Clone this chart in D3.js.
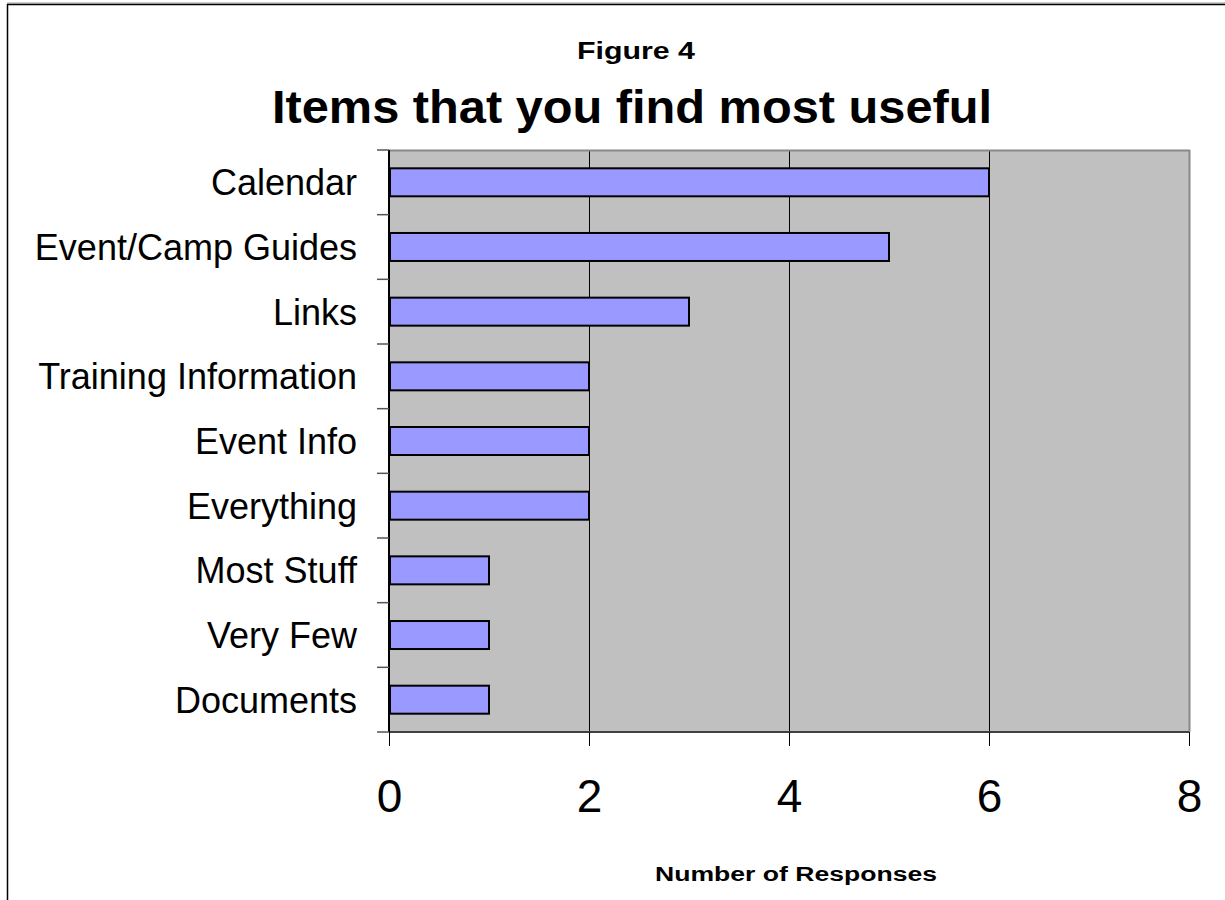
<!DOCTYPE html>
<html>
<head>
<meta charset="utf-8">
<script src="https://cdn.jsdelivr.net/npm/d3@7"></script>
<style>
  html, body { margin: 0; padding: 0; background: #fff; }
  svg { display: block; }
  text { font-family: "Liberation Sans", Arial, sans-serif; fill: #000; }
</style>
</head>
<body>
<svg id="chart" width="1225" height="900"></svg>
<script>
const categories = ["Calendar", "Event/Camp Guides", "Links", "Training Information",
  "Event Info", "Everything", "Most Stuff", "Very Few", "Documents"];
const responses = [6, 5, 3, 2, 2, 2, 1, 1, 1];
const xTicks = [0, 2, 4, 6, 8];
const figureLabel = "Figure 4";
const titleText = "Items that you find most useful";
const xAxisTitle = "Number of Responses";

const data = categories.map((c, i) => ({ cat: c, v: responses[i] }));

const svg = d3.select("#chart");
const plot = { left: 389, top: 150, right: 1189, bottom: 732 };

const x = d3.scaleLinear().domain([0, 8]).range([plot.left, plot.right]);
const y = d3.scaleBand().domain(categories).range([plot.top, plot.bottom])
  .paddingInner(0.567).paddingOuter(0.283);
const yBand = d3.scaleBand().domain(categories).range([plot.top, plot.bottom]).padding(0);

// outer frame (top + left)
svg.append("line").attr("x1", 7).attr("x2", 1225).attr("y1", 3).attr("y2", 3)
  .attr("stroke", "#999").attr("stroke-width", 1);
svg.append("line").attr("x1", 7).attr("x2", 1225).attr("y1", 4.5).attr("y2", 4.5)
  .attr("stroke", "#000").attr("stroke-width", 1.5);
svg.append("line").attr("x1", 7.5).attr("x2", 7.5).attr("y1", 4).attr("y2", 900)
  .attr("stroke", "#000").attr("stroke-width", 1.5);

// titles
svg.append("text").attr("x", 636).attr("y", 59).attr("text-anchor", "middle")
  .attr("font-size", 24).attr("font-weight", "bold")
  .attr("textLength", 118).attr("lengthAdjust", "spacingAndGlyphs")
  .text(figureLabel);
svg.append("text").attr("x", 632).attr("y", 123).attr("text-anchor", "middle")
  .attr("font-size", 46).attr("font-weight", "bold")
  .attr("textLength", 720).attr("lengthAdjust", "spacingAndGlyphs")
  .text(titleText);

// plot background
svg.append("rect").attr("x", plot.left).attr("y", plot.top)
  .attr("width", plot.right - plot.left).attr("height", plot.bottom - plot.top)
  .attr("fill", "#C0C0C0");

// gridlines
svg.append("g").selectAll("line").data(xTicks.filter(t => t > 0 && t < 8)).join("line")
  .attr("x1", d => x(d) + 0.5).attr("x2", d => x(d) + 0.5)
  .attr("y1", plot.top).attr("y2", plot.bottom)
  .attr("stroke", "#000").attr("stroke-width", 1);

// plot border top/right
svg.append("line").attr("x1", plot.left).attr("x2", plot.right + 1)
  .attr("y1", plot.top + 0.5).attr("y2", plot.top + 0.5)
  .attr("stroke", "#888").attr("stroke-width", 2);
svg.append("line").attr("x1", plot.right + 0.5).attr("x2", plot.right + 0.5)
  .attr("y1", plot.top).attr("y2", plot.bottom)
  .attr("stroke", "#888").attr("stroke-width", 2);

// bars
svg.append("g").selectAll("rect").data(data).join("rect")
  .attr("x", x(0) + 1)
  .attr("y", d => y(d.cat))
  .attr("width", d => x(d.v) - x(0) - 1)
  .attr("height", y.bandwidth())
  .attr("fill", "#9999FF")
  .attr("stroke", "#000").attr("stroke-width", 2);

// x axis
const xAxis = d3.axisBottom(x).tickValues(xTicks).tickSize(14).tickPadding(34)
  .tickFormat(d3.format("d"));
const gx = svg.append("g").attr("transform", `translate(0,${plot.bottom})`).call(xAxis);
gx.select(".domain").attr("stroke", "#404040").attr("stroke-width", 2).attr("d",
  `M${plot.left},0H${plot.right}`);
gx.selectAll(".tick line").attr("stroke", "#000").attr("stroke-width", 1);
gx.selectAll(".tick text").attr("font-size", 46).attr("font-family", "Liberation Sans, Arial, sans-serif")
  .attr("fill", "#000").attr("dy", 0).attr("y", 80);

// y axis
const yAxis = d3.axisLeft(yBand).tickSize(0).tickPadding(32);
const gy = svg.append("g").attr("transform", `translate(${plot.left},0)`).call(yAxis);
gy.select(".domain").attr("stroke", "#000").attr("stroke-width", 2)
  .attr("d", `M0,${plot.top}V${plot.bottom}`);
gy.selectAll(".tick text").attr("font-size", 36).attr("font-family", "Liberation Sans, Arial, sans-serif")
  .attr("fill", "#000").attr("dy", "0.36em");
// category boundary ticks
const bounds = categories.map(c => yBand(c)).concat([plot.bottom]);
svg.append("g").selectAll("line").data(bounds).join("line")
  .attr("x1", plot.left - 12).attr("x2", plot.left)
  .attr("y1", d => d).attr("y2", d => d)
  .attr("stroke", "#555").attr("stroke-width", 1.5);

// x axis title
svg.append("text").attr("x", 796).attr("y", 881).attr("text-anchor", "middle")
  .attr("font-size", 20).attr("font-weight", "bold")
  .attr("textLength", 282).attr("lengthAdjust", "spacingAndGlyphs")
  .text(xAxisTitle);
</script>
</body>
</html>
